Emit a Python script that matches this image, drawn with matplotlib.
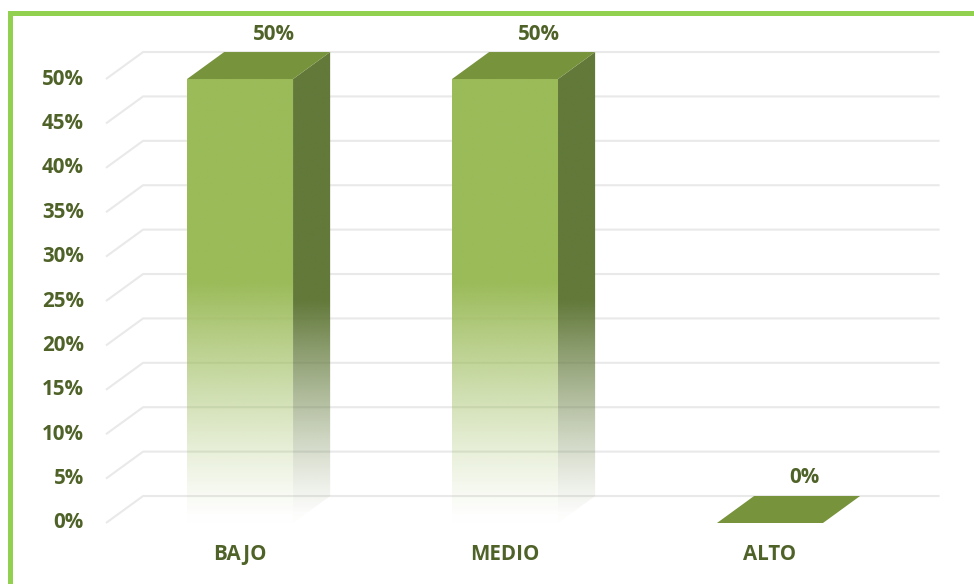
import numpy as np
import matplotlib.pyplot as plt
from matplotlib.patches import Polygon, Rectangle

# data
categorias = ["BAJO", "MEDIO", "ALTO"]
valores = [50, 50, 0]
ticks = [0, 5, 10, 15, 20, 25, 30, 35, 40, 45, 50]

# style
c_front = "#9BBB59"
c_top = "#77933C"
c_side = "#62793A"
c_text = "#4F6228"
c_grid = "#E9E9E9"
c_border = "#92D050"
fuente = dict(fontsize=14.8, fontweight="bold", color=c_text, family="Open Sans")

ancho = 0.4      # bar width
dx, dy = 0.14, 3.04   # depth offset (3d look)

fig = plt.figure(figsize=(9.74, 5.84), dpi=100)
ax = fig.add_axes([0, 0, 1, 1])
ax.set_xlim(-0.906, 2.770)
ax.set_ylim(-6.87, 58.9)
ax.axis("off")

# gridlines with perspective
x0 = -0.506
for t in ticks:
    ax.plot([x0, x0 + dx, 2.64], [t, t + dy, t + dy], color=c_grid, lw=1.5,
            zorder=1, solid_capstyle="butt")
    ax.text(x0 - 0.083, t, "{}%".format(t), ha="right", va="center", **fuente)


def grad_img(color, v_full, top):
    '''RGBA image fading color to transparent at the bottom'''
    rgb = np.array(plt.matplotlib.colors.to_rgb(color))
    ys = np.linspace(0, top, 200)
    a = np.clip(ys / v_full, 0.03, 1.0) ** 1.2
    img = np.zeros((200, 2, 4))
    img[:, :, :3] = rgb
    img[:, :, 3] = a[:, None]
    return img


for i, (cat, v) in enumerate(zip(categorias, valores)):
    l, r = i - ancho / 2, i + ancho / 2
    if v > 0:
        # front face
        front = Polygon([[l, 0], [r, 0], [r, v], [l, v]], closed=True,
                        fc="none", ec="none")
        ax.add_patch(front)
        im = ax.imshow(grad_img(c_front, 27, v + dy), origin="lower",
                       extent=[l, r + dx, 0, v + dy], aspect="auto", zorder=3,
                       interpolation="bilinear")
        im.set_clip_path(front)
        # side face
        side = Polygon([[r, 0], [r + dx, dy], [r + dx, v + dy], [r, v]],
                       closed=True, fc="none", ec="none")
        ax.add_patch(side)
        im2 = ax.imshow(grad_img(c_side, 25, v + dy), origin="lower",
                        extent=[l, r + dx, 0, v + dy], aspect="auto", zorder=3,
                        interpolation="bilinear")
        im2.set_clip_path(side)
    # top face
    ax.add_patch(Polygon([[l, v], [l + dx, v + dy], [r + dx, v + dy], [r, v]],
                         closed=True, fc=c_top, ec="none", zorder=4))
    ax.text(i + 0.128, v + dy + 2.03, "{}%".format(v), ha="center", va="center", **fuente)
    ax.text(i, -3.5, cat, ha="center", va="center", **fuente)

# green frame (top and left)
fig.add_artist(Rectangle((8 / 974, 1 - 16 / 584), 1, 5 / 584, transform=fig.transFigure,
                         fc=c_border, ec="none"))
fig.add_artist(Rectangle((8 / 974, 0), 5 / 974, 1 - 11 / 584, transform=fig.transFigure,
                         fc=c_border, ec="none"))

plt.savefig("out.png", dpi=100)
